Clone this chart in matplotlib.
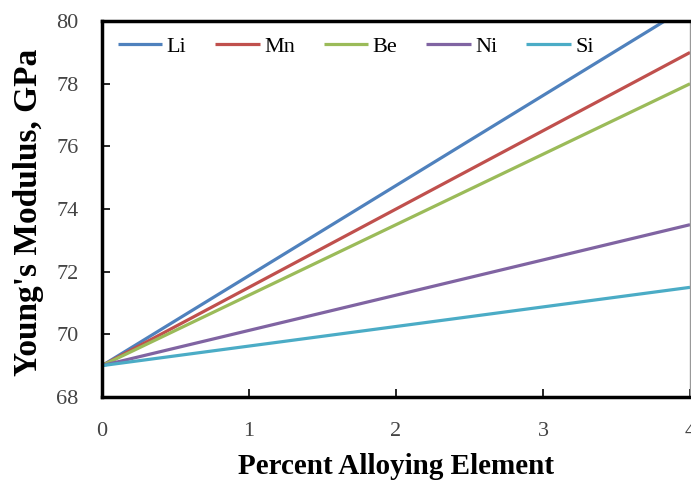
import matplotlib
matplotlib.use("Agg")
import matplotlib.pyplot as plt
import numpy as np

plt.rcParams['font.family'] = ['Liberation Serif', 'DejaVu Serif']

elements = ["Li", "Mn", "Be", "Ni", "Si"]
x_pct = [0, 4]
li = [69.0, 80.5]
mn = [69.0, 79.0]
be = [69.0, 78.0]
ni = [69.0, 73.5]
si = [69.0, 71.5]
series = [li, mn, be, ni, si]
colors = ["#4F81BD", "#C0504D", "#9BBB59", "#8064A2", "#4BACC6"]

fig = plt.figure(figsize=(6.91, 4.80), dpi=100)
ax = fig.add_axes([0.1476, 0.173, 0.8510, 0.783])

for name, ys, c in zip(elements, series, colors):
    ax.plot(x_pct, ys, color=c, lw=2.3, label=name, solid_capstyle='butt')

ax.set_xlim(0, 4)
ax.set_ylim(68, 80)
ax.set_xticks([0, 1, 2, 3, 4])
ax.set_yticks([68, 70, 72, 74, 76, 78, 80])
ax.tick_params(direction='in', length=6, width=1.2, labelsize=16, labelcolor='#444444')
ax.tick_params(axis='y', pad=17)
ax.tick_params(axis='x', pad=18)
for s in ['left', 'top', 'bottom']:
    ax.spines[s].set_linewidth(2.5)
ax.spines['right'].set_linewidth(1.0)
ax.spines['right'].set_color('#999999')

ax.set_xlabel("Percent Alloying Element", fontsize=21, fontweight='bold')
ax.set_ylabel("Young's Modulus, GPa", fontsize=24, fontweight='bold')
ax.xaxis.label.set_va('center')
ax.yaxis.label.set_va('center')
ax.xaxis.set_label_coords(0.5, -0.185)
ax.yaxis.set_label_coords(-0.125, 0.49)

ax.legend(loc='upper left', ncol=5, frameon=False, fontsize=16, handlelength=2.0,
          handletextpad=0.2, columnspacing=1.3, bbox_to_anchor=(0.0, 1.0), borderaxespad=0.3)

fig.savefig("out.png", dpi=100)
